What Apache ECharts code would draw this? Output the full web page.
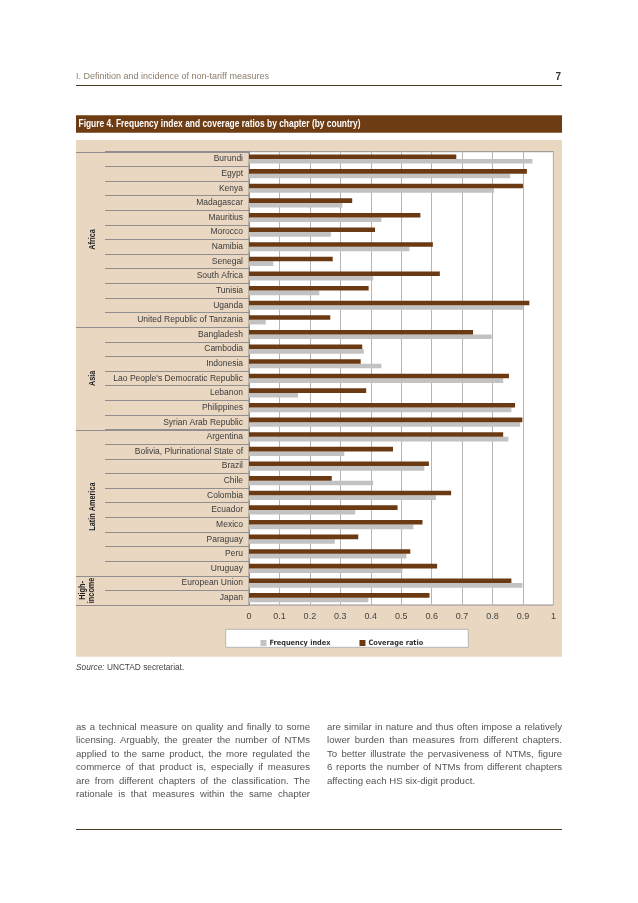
<!DOCTYPE html>
<html>
<head>
<meta charset="utf-8">
<script src="https://cdn.jsdelivr.net/npm/echarts@6/dist/echarts.min.js"></script>
<style>
  html, body { margin:0; padding:0; background:#fff; }
  #chart { position:absolute; left:0; top:0; width:638px; height:903px; }
  .col { position:absolute; width:234px; font-family:'Liberation Sans', Arial, sans-serif; font-size:9.6px; color:#555; }
  .ln { height:13.5px; line-height:13.5px; white-space:nowrap; }
  .ln span { display:inline-block; }
</style>
</head>
<body>
<div id="chart"></div>
<div class="col" id="colL" style="left:76px; top:719.75px;"></div>
<div class="col" id="colR" style="left:327px; top:719.75px; width:235px;"></div>
<script>
// ---------- data ----------
const countries = [
  'Burundi','Egypt','Kenya','Madagascar','Mauritius','Morocco','Namibia','Senegal','South Africa','Tunisia','Uganda','United Republic of Tanzania',
  'Bangladesh','Cambodia','Indonesia',"Lao People's Democratic Republic",'Lebanon','Philippines','Syrian Arab Republic',
  'Argentina','Bolivia, Plurinational State of','Brazil','Chile','Colombia','Ecuador','Mexico','Paraguay','Peru','Uruguay',
  'European Union','Japan'
];
const frequencyIndex = [
  0.931,0.858,0.805,0.307,0.435,0.269,0.527,0.080,0.408,0.231,0.900,0.055,
  0.797,0.377,0.435,0.835,0.161,0.862,0.891,
  0.852,0.313,0.576,0.408,0.614,0.349,0.540,0.282,0.517,0.504,
  0.898,0.392
];
const coverageRatio = [
  0.681,0.913,0.900,0.339,0.563,0.414,0.604,0.275,0.627,0.393,0.921,0.267,
  0.736,0.372,0.367,0.854,0.385,0.874,0.898,
  0.835,0.473,0.591,0.272,0.664,0.488,0.570,0.359,0.530,0.618,
  0.862,0.593
];
const xTickLabels = ['0','0.1','0.2','0.3','0.4','0.5','0.6','0.7','0.8','0.9','1'];
const regionNames = ['Africa','Asia','Latin America','High-\nincome'];
const regionFirst = ['Burundi','Bangladesh','Argentina','European Union'];
const regionLast  = ['United Republic of Tanzania','Syrian Arab Republic','Uruguay','Japan'];

const headerText = 'I. Definition and incidence of non-tariff measures';
const pageNumber = '7';
const figureTitle = 'Figure 4. Frequency index and coverage ratios by chapter (by country)';
const sourceLabel = 'Source:';
const sourceText = ' UNCTAD secretariat.';
const bodyLeft = [
  'as a technical measure on quality and finally to some',
  'licensing. Arguably, the greater the number of NTMs',
  'applied to the same product, the more regulated the',
  'commerce of that product is, especially if measures',
  'are from different chapters of the classification. The',
  'rationale is that measures within the same chapter'
];
const bodyRight = [
  'are similar in nature and thus often impose a relatively',
  'lower burden than measures from different chapters.',
  'To better illustrate the pervasiveness of NTMs, figure',
  '6 reports the number of NTMs from different chapters',
  'affecting each HS six-digit product.'
];

// ---------- colours ----------
const BROWN = '#6C3A12';
const GREY = '#C2C2C2';
const BEIGE = '#EAD7C2';

const chart = echarts.init(document.getElementById('chart'), null, {renderer:'canvas'});

const option = {
  animation: false,
  backgroundColor: '#fff',
  grid: { left: 249, top: 151.7, width: 304.4, height: 453.3, show: true, backgroundColor: '#fff', borderColor: '#8f8f8f', borderWidth: 1 },
  xAxis: {
    type: 'value', min: 0, max: 1, interval: 0.1,
    axisLine: { show: false },
    axisTick: { show: false },
    splitLine: { show: true, lineStyle: { color: '#b5b5b5', width: 1 } },
    axisLabel: {
      margin: 7, color: '#444', fontSize: 9, fontFamily: 'Liberation Sans, Arial, sans-serif',
      formatter: (v) => xTickLabels[Math.round(v * 10)]
    }
  },
  yAxis: {
    type: 'category', inverse: true, data: countries,
    axisLine: { show: true, lineStyle: { color: '#8f8f8f' } },
    axisTick: { show: true, length: 144, alignWithLabel: false, interval: 0, lineStyle: { color: '#8f8f8f', width: 1 } },
    axisLabel: { margin: 6, color: '#3a3a3a', fontSize: 8.5, fontFamily: 'Liberation Sans, Arial, sans-serif', interval: 0 }
  },
  legend: {
    show: true, left: 255.5, top: 634.5, itemWidth: 6, itemHeight: 6, icon: 'rect', itemGap: 29, z: 10,
    data: ['Frequency index', 'Coverage ratio'],
    textStyle: { fontSize: 7.3, fontWeight: 'bold', color: '#333', fontFamily: "'Liberation Sans Narrow','DejaVu Sans Condensed','Liberation Sans',sans-serif", padding: [0,0,0,-2] },
    selectedMode: false
  },
  series: [
    { name: 'Coverage ratio', type: 'bar', data: coverageRatio, barWidth: 4.6, barGap: '0%', itemStyle: { color: BROWN }, z: 3 },
    { name: 'Frequency index', type: 'bar', data: frequencyIndex, barWidth: 4.6, barGap: '0%', itemStyle: { color: GREY }, z: 2 }
  ]
};

const staticGraphics = [
  { type: 'rect', z: -10, shape: { x: 76, y: 140, width: 486, height: 516.7 }, style: { fill: BEIGE } },
  { type: 'text', x: 76, y: 77, style: { text: headerText, fill: '#8d7d6d', font: '9px "Liberation Sans", Arial, sans-serif', textVerticalAlign: 'middle' } },
  { type: 'text', x: 561, y: 77, style: { text: pageNumber, fill: '#333', font: 'bold 10px "Liberation Sans", Arial, sans-serif', textAlign: 'right', textVerticalAlign: 'middle' } },
  { type: 'line', shape: { x1: 76, y1: 85.5, x2: 562, y2: 85.5 }, style: { stroke: '#4b3a22', lineWidth: 1 } },
  { type: 'rect', shape: { x: 76, y: 115.3, width: 486, height: 17.5 }, style: { fill: '#6E3C13' } },
  { type: 'text', x: 78.5, y: 124.2, scaleX: 0.81, style: { text: figureTitle, fill: '#fff', font: 'bold 10.4px "Liberation Sans", Arial, sans-serif', textVerticalAlign: 'middle' } },
  { type: 'rect', z: 1, shape: { x: 225.7, y: 629.3, width: 242.6, height: 18 }, style: { fill: '#fff', stroke: '#a8a8a8', lineWidth: 0.8 }, silent: true },
  { type: 'text', x: 76, y: 668, style: { rich: { i: { fontStyle: 'italic', fontSize: 8.3, fontFamily: 'Liberation Sans, Arial, sans-serif', fill: '#444' }, n: { fontSize: 8.3, fontFamily: 'Liberation Sans, Arial, sans-serif', fill: '#444' } }, text: '{i|' + sourceLabel + '}{n|' + sourceText + '}', textVerticalAlign: 'middle' } },
  { type: 'line', shape: { x1: 76, y1: 829.5, x2: 562, y2: 829.5 }, style: { stroke: '#4b3a22', lineWidth: 1 } }
];

option.graphic = staticGraphics;
chart.setOption(option);

// region separators and labels, positions from the axis
const yOf = (name) => chart.convertToPixel({ yAxisIndex: 0 }, name);
const band = yOf(countries[1]) - yOf(countries[0]);
const dyn = [];
for (let r = 0; r < regionNames.length; r++) {
  const yTop = yOf(regionFirst[r]) - band / 2;
  const yBot = yOf(regionLast[r]) + band / 2;
  dyn.push({ type: 'line', z: 4, shape: { x1: 76, y1: Math.round(yTop) + 0.5, x2: 249, y2: Math.round(yTop) + 0.5 }, style: { stroke: '#8f8f8f', lineWidth: 1 } });
  if (r === regionNames.length - 1) {
    dyn.push({ type: 'line', z: 4, shape: { x1: 76, y1: Math.round(yBot) + 0.5, x2: 249, y2: Math.round(yBot) + 0.5 }, style: { stroke: '#8f8f8f', lineWidth: 1 } });
  }
  const multi = regionNames[r].indexOf('\n') >= 0;
  dyn.push({ type: 'text', z: 4, x: multi ? 87.5 : 93, y: (yTop + yBot) / 2 + (r === 2 ? 4 : 0), rotation: Math.PI / 2, scaleX: 0.85,
    style: { text: regionNames[r], fill: '#222', font: 'bold 8.6px "Liberation Sans", Arial, sans-serif', textAlign: 'center', textVerticalAlign: 'middle', lineHeight: 9 } });
}
chart.setOption({ graphic: staticGraphics.concat(dyn) });

// body text columns, justified line by line
function fillCol(id, lines, width, lastJustified) {
  const col = document.getElementById(id);
  lines.forEach((t, i) => {
    const d = document.createElement('div');
    d.className = 'ln';
    const s = document.createElement('span');
    s.textContent = t;
    d.appendChild(s);
    col.appendChild(d);
    const justify = (i < lines.length - 1) || lastJustified;
    if (justify) {
      const w = s.getBoundingClientRect().width;
      const spaces = (t.match(/ /g) || []).length;
      if (spaces > 0) s.style.wordSpacing = ((width - w) / spaces) + 'px';
    }
  });
}
fillCol('colL', bodyLeft, 234, true);
fillCol('colR', bodyRight, 235, false);
</script>
</body>
</html>
